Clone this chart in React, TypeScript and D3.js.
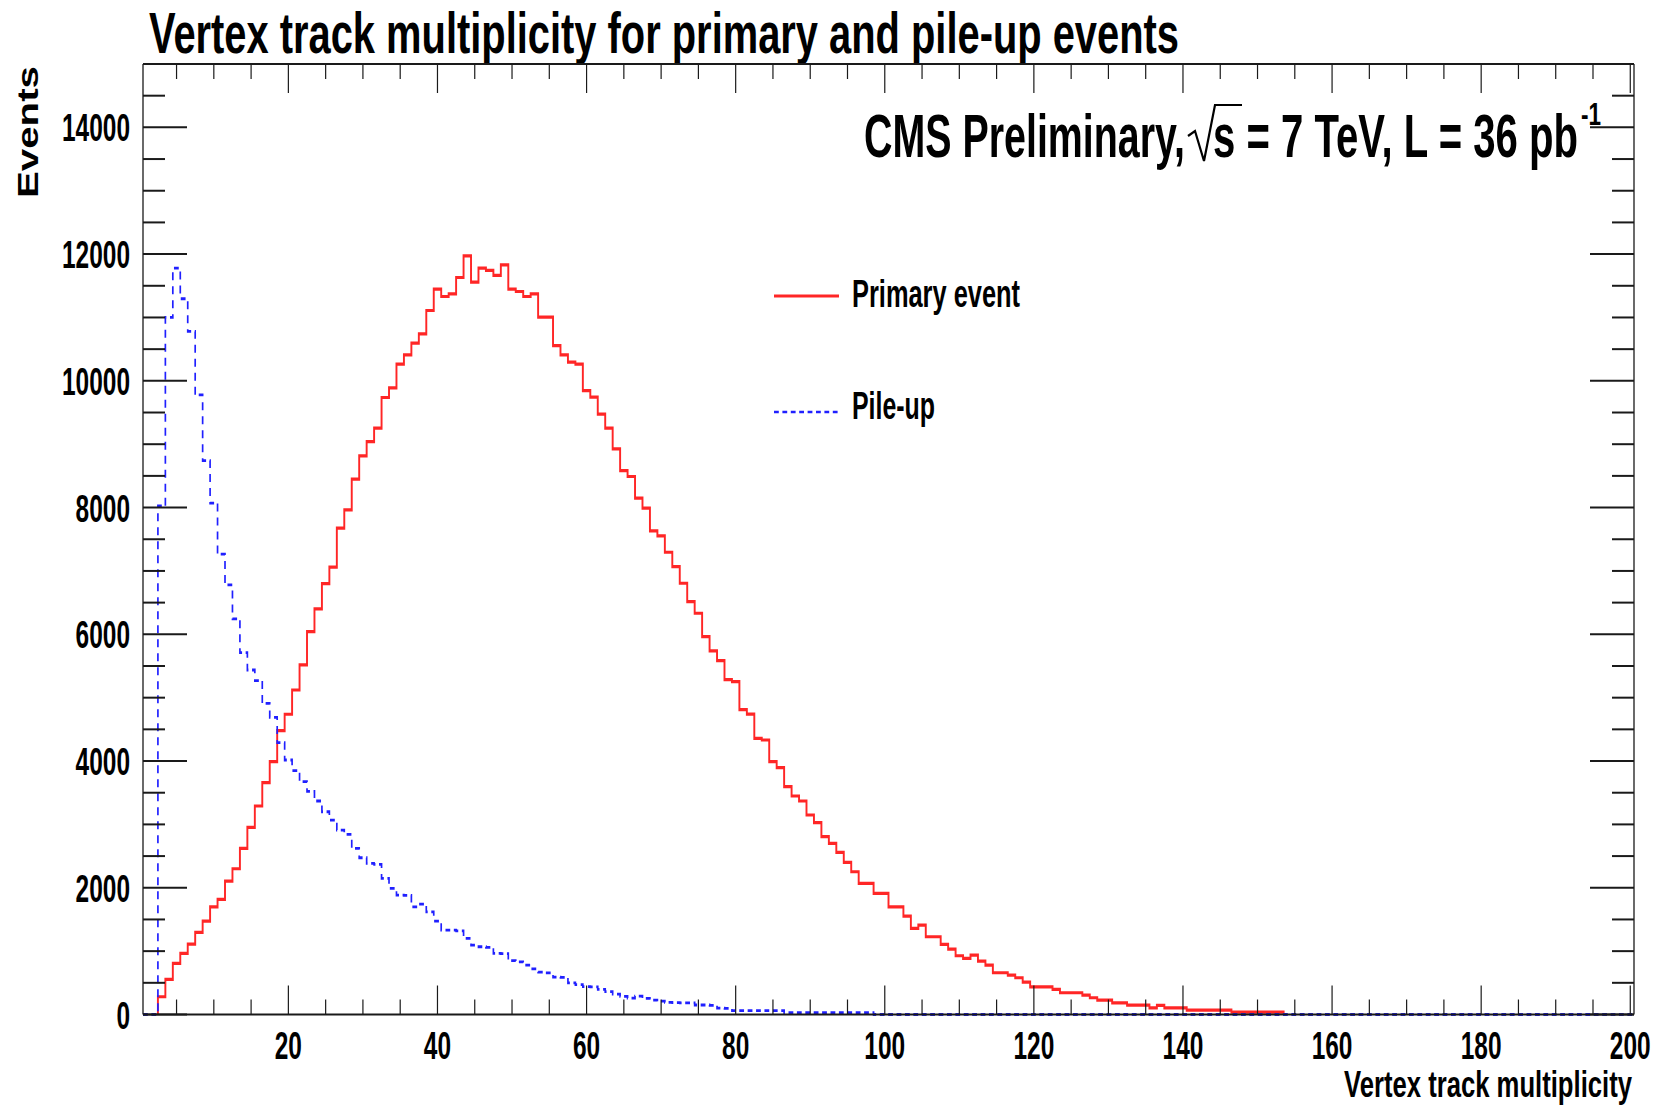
import React from "react";
import * as d3 from "d3";

// Canvas and frame geometry
const WIDTH = 1669;
const HEIGHT = 1109;
const FRAME = { left: 143, right: 1634, top: 64, bottom: 1014.5 };

// Histogram binning: 200 unit-wide bins from 0.5 to 200.5
const X_MIN = 0.5;
const X_MAX = 200.5;
const Y_MAX = 15000;

// Tick definitions
const xMajorTicks = [20, 40, 60, 80, 100, 120, 140, 160, 180, 200];
const xMinorStep = 5;
const yMajorTicks = [0, 2000, 4000, 6000, 8000, 10000, 12000, 14000];
const yMinorStep = 500;

// Bin contents, index 0 = multiplicity 1
const primaryEvent = [
  0, 0, 280, 554, 806, 964, 1111, 1296, 1474, 1700,
  1817, 2106, 2300, 2622, 2954, 3290, 3658, 3990, 4479, 4738,
  5121, 5516, 6042, 6400, 6800, 7060, 7674, 7963, 8448, 8816,
  9042, 9253, 9737, 9889, 10263, 10410, 10595, 10742, 11110, 11447,
  11331, 11373, 11631, 11973, 11558, 11779, 11742, 11663, 11831, 11447,
  11410, 11331, 11373, 11006, 11006, 10556, 10410, 10295, 10263, 9847,
  9742, 9474, 9253, 8926, 8584, 8490, 8148, 7990, 7632, 7553,
  7295, 7068, 6806, 6516, 6332, 5963, 5737, 5584, 5285, 5253,
  4810, 4740, 4359, 4332, 3990, 3895, 3595, 3448, 3369, 3148,
  3027, 2806, 2701, 2559, 2401, 2253, 2069, 2069, 1912, 1912,
  1700, 1700, 1553, 1359, 1411, 1227, 1227, 1106, 1032, 927,
  885, 938, 843, 780, 659, 659, 622, 580, 510, 437,
  437, 437, 396, 343, 343, 343, 306, 264, 227, 227,
  185, 185, 148, 148, 148, 106, 143, 106, 106, 106,
  69, 69, 69, 69, 69, 69, 38, 38, 38, 38,
  38, 38, 38,
];

const pileUp = [
  0, 0, 8027, 11000, 11779, 11295, 10779, 9779, 8742, 8069,
  7264, 6779, 6243, 5711, 5437, 5269, 4911, 4690, 4290, 4016,
  3848, 3674, 3520, 3369, 3200, 3069, 2911, 2843, 2622, 2474,
  2384, 2370, 2149, 1991, 1885, 1880, 1700, 1743, 1621, 1475,
  1332, 1330, 1320, 1201, 1096, 1069, 1060, 964, 960, 850,
  832, 780, 720, 670, 658, 590, 585, 500, 470, 440,
  437, 396, 360, 320, 285, 260, 290, 254, 227, 210,
  190, 188, 185, 185, 150, 150, 145, 100, 96, 60,
  60, 60, 60, 60, 60, 60, 30, 30, 30, 30,
  30, 30, 30, 30, 30, 30, 30, 30,
];

const seriesLabels = ["Primary event", "Pile-up"];
const titleText = "Vertex track multiplicity for primary and pile-up events";
const xTitle = "Vertex track multiplicity";
const yTitle = "Events";

const RED = "#ff2626";
const BLUE = "#2020ff";
const INK = "#1a1a1a";
const FONT = "'Liberation Sans Narrow', 'Liberation Sans', Arial, sans-serif";
const WIDE_FONT = "'Liberation Sans', Arial, sans-serif";

// The plot is rendered horizontally compressed; histogram outlines are drawn
// in an expanded frame and squeezed so line weights and dash lengths differ
// between horizontal and vertical runs.
const SQUEEZE = 0.6;

const xScale = d3.scaleLinear().domain([X_MIN, X_MAX]).range([FRAME.left, FRAME.right]);
const yScale = d3.scaleLinear().domain([0, Y_MAX]).range([FRAME.bottom, FRAME.top]);

type Pt = [number, number];

function outline(counts: number[], fullRange: boolean): Pt[] {
  const nBins = X_MAX - X_MIN;
  const vals = d3.range(nBins).map((i) => (i < counts.length ? counts[i] : 0));
  let first = 0;
  let last = nBins - 1;
  if (!fullRange) {
    first = vals.findIndex((v) => v > 0);
    last = nBins - 1 - [...vals].reverse().findIndex((v) => v > 0);
  }
  const pts: Pt[] = [[X_MIN + first, 0]];
  for (let i = first; i <= last; i++) {
    pts.push([X_MIN + i, vals[i]]);
    pts.push([X_MIN + i + 1, vals[i]]);
  }
  pts.push([X_MIN + last + 1, 0]);
  return pts;
}

const squeezedLine = d3
  .line<Pt>()
  .x((d) => (xScale(d[0]) - FRAME.left) / SQUEEZE)
  .y((d) => yScale(d[1]));

function CondText(props: {
  x: number;
  y: number;
  size: number;
  width: number;
  anchor?: "start" | "middle" | "end";
  family?: string;
  transform?: string;
  children: React.ReactNode;
}) {
  const { x, y, size, width, anchor = "start", family = FONT, transform, children } = props;
  return (
    <text
      x={x}
      y={y}
      fontSize={size}
      fontFamily={family}
      fontWeight={700}
      fill="#000"
      textAnchor={anchor}
      textLength={width}
      lengthAdjust="spacingAndGlyphs"
      transform={transform}
    >
      {children}
    </text>
  );
}

const DIGIT_W = 13.6;
const LABEL_SIZE = 39;

export default function App() {
  const xMinor = d3.range(xMinorStep, X_MAX, xMinorStep);
  const yMinor = d3.range(0, Y_MAX + 1, yMinorStep);

  const redPath = squeezedLine(outline(primaryEvent, false)) || "";
  const bluePath = squeezedLine(outline(pileUp, true)) || "";

  const isXMajor = (v: number) => v % 20 === 0;
  const isYMajor = (v: number) => v % 2000 === 0;

  return (
    <svg
      width={WIDTH}
      height={HEIGHT}
      viewBox={`0 0 ${WIDTH} ${HEIGHT}`}
      style={{ position: "absolute", left: 0, top: 0, background: "#fff" }}
    >
      <rect x={0} y={0} width={WIDTH} height={HEIGHT} fill="#fff" />

      {/* Title */}
      <CondText x={149} y={53} size={57} width={1030}>
        {titleText}
      </CondText>

      {/* Histograms */}
      <g transform={`translate(${FRAME.left},0) scale(${SQUEEZE},1)`}>
        <path d={redPath} fill="none" stroke={RED} strokeWidth={3.2} strokeLinejoin="miter" />
        <path
          d={bluePath}
          fill="none"
          stroke={BLUE}
          strokeWidth={2.8}
          strokeDasharray="8 6"
        />
      </g>

      {/* Frame */}
      <g stroke={INK} fill="none">
        <line x1={FRAME.left} x2={FRAME.right} y1={FRAME.bottom} y2={FRAME.bottom} strokeWidth={2} />
        <line x1={FRAME.left} x2={FRAME.right} y1={FRAME.top} y2={FRAME.top} strokeWidth={2} />
        <line x1={FRAME.left} x2={FRAME.left} y1={FRAME.top} y2={FRAME.bottom} strokeWidth={1.3} />
        <line x1={FRAME.right} x2={FRAME.right} y1={FRAME.top} y2={FRAME.bottom} strokeWidth={1.3} />
      </g>

      {/* X ticks (bottom and top) */}
      <g stroke={INK} strokeWidth={1.2}>
        {xMinor.map((v) => {
          const len = isXMajor(v) ? 29 : 15;
          const x = xScale(v);
          return (
            <g key={`xt${v}`}>
              <line x1={x} x2={x} y1={FRAME.bottom} y2={FRAME.bottom - len} />
              <line x1={x} x2={x} y1={FRAME.top} y2={FRAME.top + len} />
            </g>
          );
        })}
      </g>

      {/* Y ticks (left and right) */}
      <g stroke={INK} strokeWidth={2}>
        {yMinor.map((v) => {
          const len = isYMajor(v) ? 44 : 22;
          const y = yScale(v);
          return (
            <g key={`yt${v}`}>
              <line x1={FRAME.left} x2={FRAME.left + len} y1={y} y2={y} />
              <line x1={FRAME.right} x2={FRAME.right - len} y1={y} y2={y} />
            </g>
          );
        })}
      </g>

      {/* X tick labels */}
      {xMajorTicks.map((v) => (
        <CondText
          key={`xl${v}`}
          x={xScale(v)}
          y={1059}
          size={LABEL_SIZE}
          width={String(v).length * DIGIT_W}
          anchor="middle"
        >
          {String(v)}
        </CondText>
      ))}

      {/* Y tick labels */}
      {yMajorTicks.map((v) => (
        <CondText
          key={`yl${v}`}
          x={130}
          y={yScale(v) + 14}
          size={LABEL_SIZE}
          width={String(v).length * DIGIT_W}
          anchor="end"
        >
          {String(v)}
        </CondText>
      ))}

      {/* Axis titles */}
      <CondText x={1632} y={1097} size={37} width={288} anchor="end">
        {xTitle}
      </CondText>
      <CondText
        x={0}
        y={0}
        size={30}
        width={132}
        family={WIDE_FONT}
        transform="translate(38,198) rotate(-90)"
      >
        {yTitle}
      </CondText>

      {/* Experiment label */}
      <CondText x={864} y={157} size={61} width={321}>
        CMS Preliminary,
      </CondText>
      <path
        d="M1188,136 L1195,131 L1204,161 L1215,105 L1242,105"
        fill="none"
        stroke="#000"
        strokeWidth={2.2}
      />
      <CondText x={1213} y={157} size={61} width={365}>
        s = 7 TeV, L = 36 pb
      </CondText>
      <CondText x={1581} y={125} size={32} width={20}>
        -1
      </CondText>

      {/* Legend */}
      <line x1={774} x2={839} y1={296} y2={296} stroke={RED} strokeWidth={3} />
      <CondText x={852} y={306.5} size={39} width={168}>
        {seriesLabels[0]}
      </CondText>
      <line
        x1={774}
        x2={839}
        y1={412}
        y2={412}
        stroke={BLUE}
        strokeWidth={2.6}
        strokeDasharray="4.8 3.6"
      />
      <CondText x={852} y={419} size={39} width={83}>
        {seriesLabels[1]}
      </CondText>
    </svg>
  );
}
